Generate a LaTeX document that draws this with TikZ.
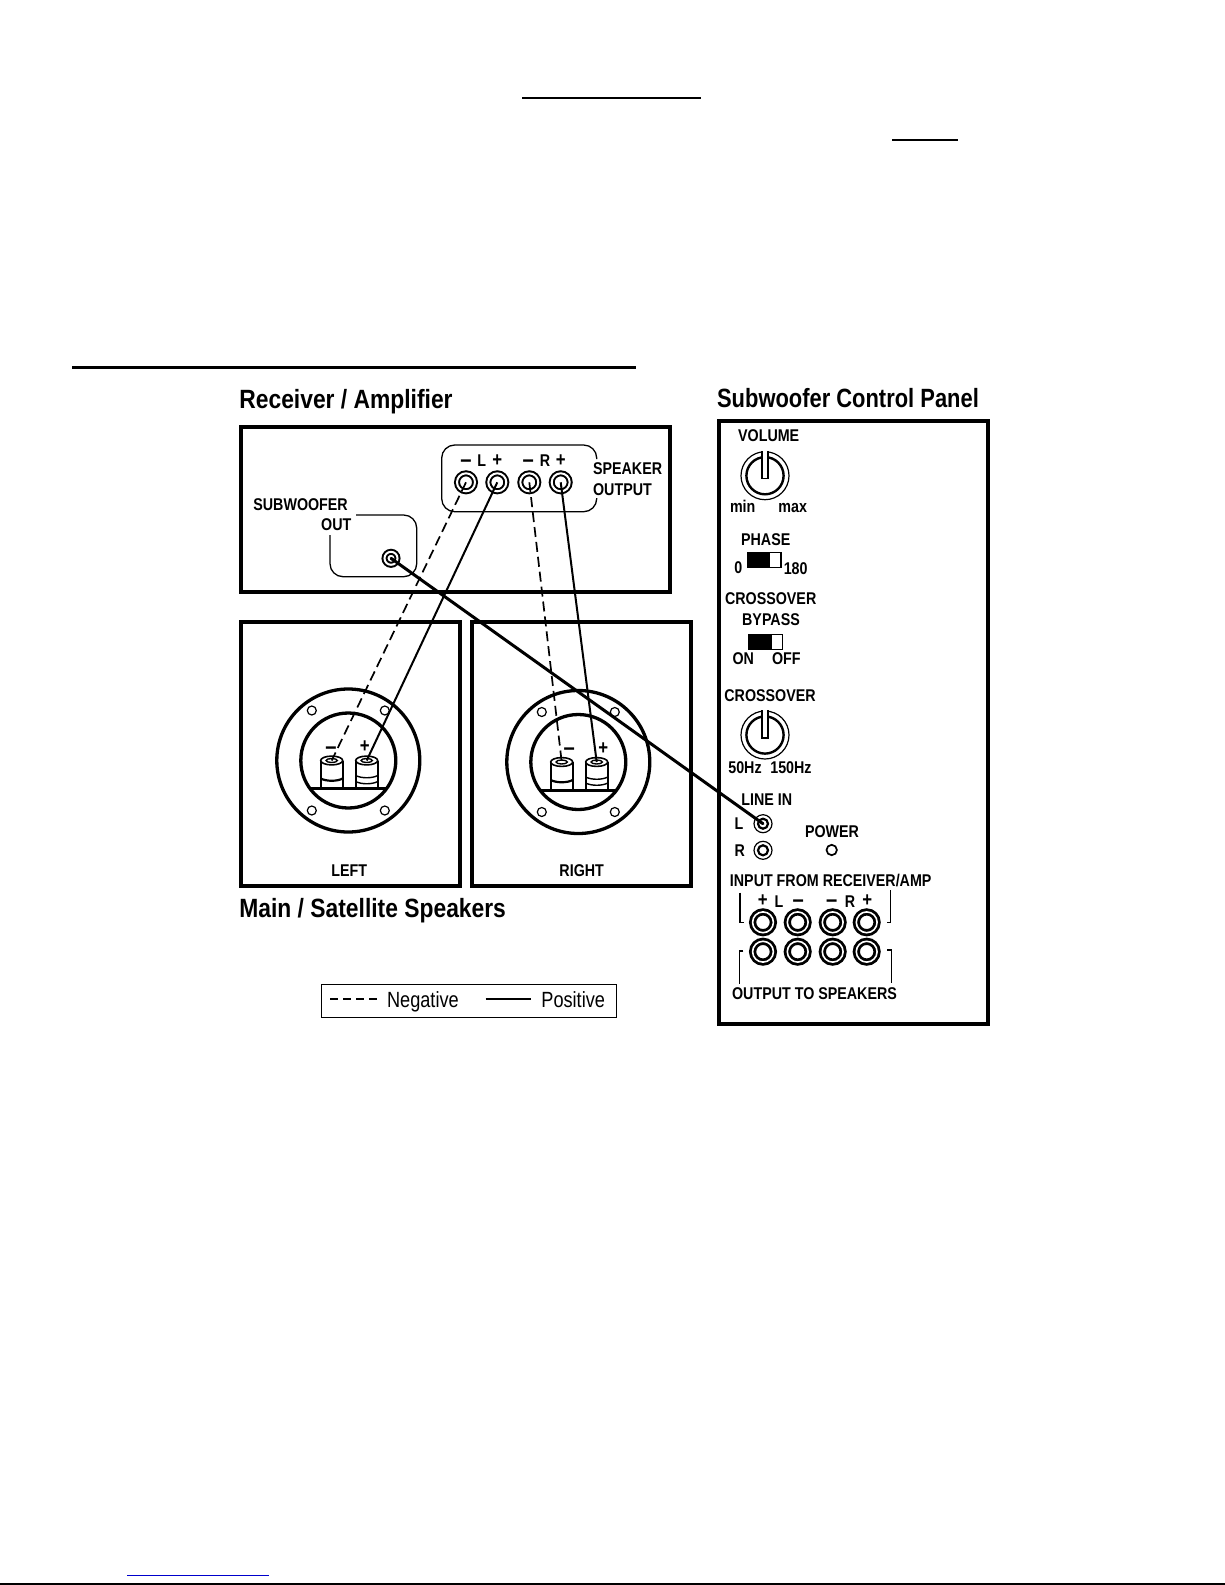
\documentclass[tikz,border=0pt]{standalone}
\usepackage{fontspec}
\usepackage{xcolor}
\usetikzlibrary{shapes.geometric, positioning}
\newfontfamily\headfont[FakeStretch=0.865]{Liberation Sans}
\newfontfamily\panelfont[FakeStretch=0.83]{Liberation Sans}
\newfontfamily\narrowfont[FakeStretch=0.84]{Liberation Sans}
\newfontfamily\legendfont[FakeStretch=0.825]{Liberation Sans}
\definecolor{linkblue}{RGB}{0,0,204}

\begin{document}
\begin{tikzpicture}[x=0.5pt, y=-0.5pt,
    heading/.style={inner sep=0pt, anchor=base west, font=\headfont\bfseries\fontsize{13.2pt}{15pt}\selectfont},
    label/.style={inner sep=0pt, font=\narrowfont\bfseries\fontsize{8.5pt}{10pt}\selectfont},
    sign/.style={inner sep=0pt, font=\narrowfont\bfseries\fontsize{10pt}{12pt}\selectfont},
    dashsign/.style={inner sep=0pt, yshift=-1.5pt, font=\narrowfont\bfseries\fontsize{12pt}{14pt}\selectfont},
    legendtext/.style={inner sep=0pt, anchor=base west, font=\legendfont\fontsize{11pt}{13pt}\selectfont},
    panelbox/.style={draw, line width=2pt},
    thinbox/.style={draw, line width=0.65pt, rounded corners=6.5pt},
    rulebar/.style={line width=1pt},
    recjack/.style={circle, draw, fill=white, inner sep=0pt, minimum size=9pt, line width=1pt, double=white, double distance=1pt},
    subjack/.style={circle, draw, fill=white, inner sep=0pt, minimum size=6.5pt, line width=1pt, double=white, double distance=1pt},
    bigjack/.style={circle, draw, fill=white, inner sep=0pt, minimum size=10.4pt, line width=1.4pt, double=white, double distance=0.8pt},
    ringout/.style={circle, draw, inner sep=0pt, minimum size=9pt, line width=0.6pt},
    ringin/.style={circle, draw, inner sep=0pt, minimum size=5pt, line width=1.1pt},
    screwhole/.style={circle, draw, inner sep=0pt, minimum size=4.5pt, line width=0.6pt},
    postcap/.style={ellipse, draw, fill=white, inner sep=0pt, minimum width=11pt, minimum height=4.4pt, line width=0.8pt},
    postbore/.style={ellipse, draw, fill=white, inner sep=0pt, minimum width=5.6pt, minimum height=2pt, line width=0.7pt},
    switchbody/.style={rectangle, draw, fill=white, inner sep=0pt, minimum width=16.8pt, minimum height=7.4pt, line width=0.6pt},
    legendbox/.style={rectangle, draw, inner sep=0pt, minimum width=147.7pt, minimum height=16.5pt, line width=0.65pt},
    negwire/.style={line width=0.85pt, dash pattern=on 5pt off 2.5pt},
    poswire/.style={line width=1pt},
    subwire/.style={line width=1.5pt, line cap=round}]

    \useasboundingbox (0,0) rectangle (1225,1585);

    \draw [rulebar] (522,98) -- (701,98);
    \draw [rulebar] (892,140) -- (958,140);
    \draw [line width=1.5pt] (72,367.3) -- (636,367.3);
    \draw [line width=0.5pt, linkblue] (127,1575) -- (269,1575);
    \draw [line width=0.65pt] (0,1584) -- (1225,1584);

    \node [heading] (recvTitle) at (239,408) {Receiver / Amplifier};
    \node [heading, font=\panelfont\bfseries\fontsize{13.2pt}{15pt}\selectfont] (panelTitle) at (716.7,407) {Subwoofer Control Panel};
    \node [heading] (mainTitle) at (239,917) {Main / Satellite Speakers};

    \draw [panelbox] (241.3,427) rectangle (669.7,592);
    \draw [thinbox] (596.7,459) -- (596.7,445) -- (441.7,445) -- (441.7,511.7) -- (596.7,511.7) -- (596.7,498);
    \draw [thinbox] (356,515) -- (416.7,515) -- (416.7,576.7) -- (330,576.7) -- (330,535);

    \foreach \tag/\x in {LNeg/466, LPos/497.3, RNeg/529.3, RPos/560.7}
        \node [recjack] (out\tag) at (\x,482.3) {};
    \node [subjack] (subOut) at (391,558.3) {};

    \node [dashsign] (outMinusL) at (466,460.7) {–};
    \node [label] (outL) at (481.7,460.7) {L};
    \node [sign] (outPlusL) at (497.3,460.7) {+};
    \node [dashsign] (outMinusR) at (528.3,460.7) {–};
    \node [label] (outR) at (545,460.7) {R};
    \node [sign] (outPlusR) at (560.7,460.7) {+};
    \node [label, anchor=west] (spkWord) at (592.7,469) {SPEAKER};
    \node [label, anchor=west] (outWord) at (592.7,489.3) {OUTPUT};
    \node [label, anchor=east] (subWord) at (348.2,504.3) {SUBWOOFER};
    \node [label, anchor=east] (subOutWord) at (351.7,525) {OUT};

    \draw [panelbox] (241,622) rectangle (460.3,886);
    \draw [panelbox] (472,622) rectangle (691.3,886);
    \node [label] (leftWord) at (349.3,870.7) {LEFT};
    \node [label] (rightWord) at (581.7,870.7) {RIGHT};

    \foreach \s/\cx/\cy/\mx/\px in {L/348.3/760.5/-17.3/16.4, R/578.3/762/-9/25}
    {
        \begin{scope}[shift={(\cx,\cy)}]
            \draw [line width=1.65pt] (0,0) circle (71.5);
            \draw [line width=1.65pt] (0,0) circle (47.5);
            \draw [line width=1.5pt] (-38.5,28) -- (38.5,28);
            \foreach \hx/\hy in {-36.5/-50, 36.5/-50, -36.5/50, 36.5/50}
                \node [screwhole] at (\hx,\hy) {};
            \draw [line width=0.8pt] (-27.6,0) -- (-27.6,27) (-5.6,0) -- (-5.6,27);
            \draw [line width=0.8pt] (7.4,0) -- (7.4,27) (29.4,0) -- (29.4,27);
            \draw [line width=1.1pt] (-27.6,18) .. controls (-22,21) and (-11,21) .. (-5.6,18);
            \draw [line width=0.7pt] (7.4,15) .. controls (13,18) and (24,18) .. (29.4,15);
            \draw [line width=0.7pt] (7.4,21) .. controls (13,24) and (24,24) .. (29.4,21);
            \node [postcap] (negCap\s) at (-16.6,0) {};
            \node [postbore] at (-16.6,0) {};
            \node [postcap] (posCap\s) at (18.4,0) {};
            \node [postbore] at (18.4,0) {};
            \node [dashsign] (negSign\s) at (\mx,-13) {–};
            \node [sign] (posSign\s) at (\px,-13.5) {+};
        \end{scope}
    }

    \node [legendbox] (legend) at (469,1000.8) {};
    \coordinate (dashStart) at (330,999);
    \coordinate (dashEnd) at (376.7,999);
    \coordinate (lineStart) at (485.7,999);
    \coordinate (lineEnd) at (530.7,999);
    \draw [line width=0.55pt, dash pattern=on 3.8pt off 2.7pt] (dashStart) -- (dashEnd);
    \draw [line width=0.55pt] (lineStart) -- (lineEnd);
    \node [legendtext] (negWord) at (386.7,1007) {Negative};
    \node [legendtext] (posWord) at (541,1007) {Positive};

    \draw [panelbox] (718.7,421.3) rectangle (988,1024);

    \node [label] (volWord) at (768.7,436) {VOLUME};
    \node [label, anchor=base] (minWord) at (742.7,512.7) {min};
    \node [label, anchor=base] (maxWord) at (792.7,512.7) {max};
    \node [label] (phaseWord) at (765.7,539.7) {PHASE};
    \node [label] (zeroWord) at (738.3,567.7) {0};
    \node [label] (oneEightyWord) at (795.7,568.7) {180};
    \node [label] (xoWord) at (770.7,599) {CROSSOVER};
    \node [label] (bypassWord) at (771,620) {BYPASS};
    \node [label] (onWord) at (743.3,659) {ON};
    \node [label] (offWord) at (786.3,659) {OFF};
    \node [label] (xoTwoWord) at (770,696) {CROSSOVER};
    \node [label] (lowWord) at (745,767.7) {50Hz};
    \node [label] (highWord) at (791,767.7) {150Hz};

    \foreach \k/\cy in {vol/475.7, xo/735}
    {
        \node [circle, draw, inner sep=0pt, minimum size=24pt, line width=0.6pt] (\k Knob) at (765,\cy) {};
        \node [circle, draw, inner sep=0pt, minimum size=18.6pt, line width=1.2pt] at (765,\cy) {};
        \fill [white] ([xshift=-1.5pt,yshift=1pt]\k Knob.north) rectangle ([xshift=1.5pt]\k Knob.center);
        \draw [line width=0.6pt] ([xshift=-1.5pt]\k Knob.north) -- ([xshift=-1.5pt,yshift=-1.5pt]\k Knob.center) -- ([xshift=1.5pt,yshift=-1.5pt]\k Knob.center) -- ([xshift=1.5pt]\k Knob.north);
    }

    \node [switchbody] (phaseSw) at (764.2,559.8) {};
    \fill (phaseSw.north west) rectangle ([xshift=11.7pt]phaseSw.south west);
    \node [switchbody] (bypassSw) at (765.8,641.7) {};
    \fill (bypassSw.north west) rectangle ([xshift=11.8pt]bypassSw.south west);

    \node [label] (lineWord) at (766.7,800) {LINE IN};
    \node [label] (lineLWord) at (739,823.3) {L};
    \node [label] (lineRWord) at (739.7,850.3) {R};
    \node [ringout] (lineL) at (763,823.7) {};
    \node [ringin] at (763,823.7) {};
    \node [ringout] (lineR) at (763,850.3) {};
    \node [ringin] at (763,850.3) {};
    \node [label] (powerWord) at (832,831.7) {POWER};
    \node [circle, draw, inner sep=0pt, minimum size=5.2pt, line width=0.85pt] (powerLed) at (831.7,850) {};

    \node [label] (inputWord) at (830.7,880.3) {INPUT FROM RECEIVER/AMP};
    \node [label] (outputWord) at (814.5,994) {OUTPUT TO SPEAKERS};
    \draw [line width=0.6pt] (740,892.7) -- (740,922.7) -- (744.3,922.7);
    \draw [line width=0.6pt] (890.7,890) -- (890.7,922.7) -- (886.7,922.7);
    \draw [line width=0.6pt] (743.3,951) -- (739.3,951) -- (739.3,984);
    \draw [line width=0.6pt] (887.3,950) -- (891.3,950) -- (891.3,982.7);

    \foreach \i/\x in {1/763, 2/797.7, 3/832.7, 4/866.7}
    {
        \node [bigjack] (inJack\i) at (\x,922.3) {};
        \node [bigjack] (spkJack\i) at (\x,951.7) {};
    }
    \node [sign] (inPlusL) at (762.7,900.7) {+};
    \node [label] (inL) at (779,901.7) {L};
    \node [dashsign] (inMinusL) at (798.3,900.7) {–};
    \node [dashsign] (inMinusR) at (831.7,900.7) {–};
    \node [label] (inR) at (850,901.7) {R};
    \node [sign] (inPlusR) at (867.3,900.7) {+};

    \draw [negwire] (outLNeg.center) -- (negCapL.center);
    \draw [poswire] (outLPos.center) -- (posCapL.center);
    \draw [negwire] (outRNeg.center) -- (negCapR.center);
    \draw [poswire] (outRPos.center) -- (posCapR.center);
    \draw [subwire] (subOut.center) -- (lineL.center);
\end{tikzpicture}
\end{document}
